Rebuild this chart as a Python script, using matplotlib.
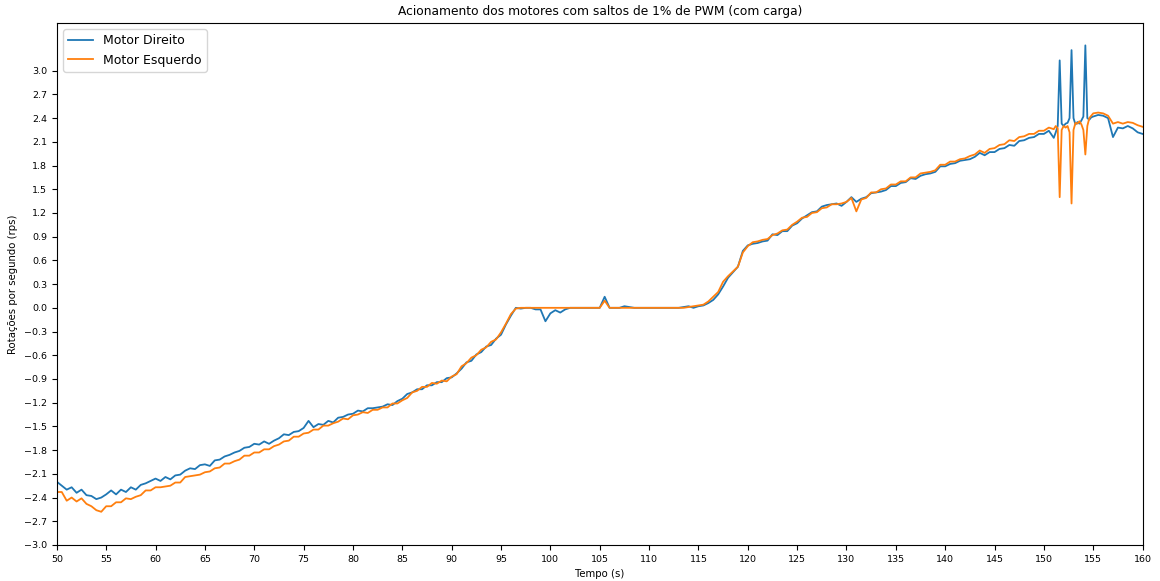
import numpy as np
import matplotlib
matplotlib.use("Agg")
import matplotlib.pyplot as plt

# time grid (s): 0.5 s steps, finer around the spikes at 151-155 s
tempo = np.concatenate([
    np.linspace(50, 150.5, 202),
    np.linspace(151, 154.8, 20),
    np.linspace(155, 160, 11),
])

motor_direito = [
    -2.20, -2.25, -2.30, -2.27, -2.34, -2.30, -2.37, -2.38, -2.42, -2.40,
    -2.36, -2.31, -2.36, -2.30, -2.33, -2.27, -2.30, -2.24, -2.22, -2.19,
    -2.16, -2.19, -2.14, -2.17, -2.12, -2.11, -2.06, -2.03, -2.04, -1.99,
    -1.98, -2.00, -1.93, -1.92, -1.88, -1.86, -1.83, -1.81, -1.77, -1.76,
    -1.72, -1.73, -1.69, -1.72, -1.68, -1.65, -1.60, -1.61, -1.57, -1.56,
    -1.52, -1.43, -1.51, -1.47, -1.48, -1.43, -1.45, -1.39, -1.38, -1.35,
    -1.34, -1.30, -1.31, -1.27, -1.27, -1.26, -1.25, -1.22, -1.23, -1.18,
    -1.15, -1.09, -1.07, -1.03, -1.03, -0.98, -0.98, -0.94, -0.94, -0.89,
    -0.88, -0.83, -0.77, -0.69, -0.67, -0.59, -0.56, -0.49, -0.47, -0.39,
    -0.34, -0.21, -0.10, 0.00, -0.01, 0.00, 0.00, -0.02, -0.02, -0.17,
    -0.07, -0.03, -0.06, -0.02, 0.00, 0.00, 0.00, 0.00, 0.00, 0.00,
    0.00, 0.14, 0.00, 0.00, 0.00, 0.02, 0.01, 0.00, 0.00, 0.00,
    0.00, 0.00, 0.00, 0.00, 0.00, 0.00, 0.00, 0.01, 0.02, 0.00,
    0.02, 0.03, 0.06, 0.10, 0.17, 0.27, 0.38, 0.45, 0.52, 0.72,
    0.79, 0.81, 0.82, 0.84, 0.85, 0.93, 0.92, 0.97, 0.97, 1.04,
    1.07, 1.13, 1.17, 1.21, 1.22, 1.28, 1.30, 1.31, 1.32, 1.29,
    1.34, 1.40, 1.34, 1.38, 1.40, 1.45, 1.46, 1.47, 1.49, 1.54,
    1.54, 1.58, 1.59, 1.64, 1.63, 1.67, 1.69, 1.70, 1.72, 1.79,
    1.79, 1.82, 1.83, 1.86, 1.87, 1.88, 1.91, 1.96, 1.93, 1.97,
    1.97, 2.01, 2.02, 2.06, 2.05, 2.11, 2.12, 2.15, 2.16, 2.20,
    2.20, 2.24,
    2.15, 2.22, 2.30, 3.13, 2.33, 2.30, 2.33, 2.34, 2.40, 3.26,
    2.40, 2.32, 2.35, 2.33, 2.37, 2.42, 3.32, 2.40, 2.38, 2.41,
    2.42, 2.44, 2.43, 2.40, 2.16, 2.28, 2.27, 2.30, 2.27, 2.22, 2.20,
]

motor_esquerdo = [
    -2.33, -2.33, -2.44, -2.40, -2.45, -2.41, -2.48, -2.51, -2.56, -2.58,
    -2.51, -2.51, -2.46, -2.46, -2.41, -2.42, -2.39, -2.37, -2.31, -2.31,
    -2.27, -2.27, -2.26, -2.25, -2.21, -2.21, -2.14, -2.13, -2.12, -2.11,
    -2.08, -2.07, -2.03, -2.02, -1.97, -1.97, -1.94, -1.92, -1.87, -1.87,
    -1.83, -1.83, -1.79, -1.79, -1.75, -1.73, -1.69, -1.68, -1.63, -1.63,
    -1.59, -1.58, -1.54, -1.54, -1.49, -1.49, -1.46, -1.44, -1.40, -1.41,
    -1.36, -1.35, -1.32, -1.33, -1.29, -1.29, -1.26, -1.26, -1.21, -1.21,
    -1.17, -1.14, -1.07, -1.05, -1.00, -1.00, -0.95, -0.96, -0.92, -0.93,
    -0.87, -0.84, -0.74, -0.70, -0.63, -0.60, -0.53, -0.50, -0.43, -0.40,
    -0.31, -0.20, -0.08, -0.01, 0.00, 0.00, 0.00, 0.00, 0.00, 0.00,
    0.00, 0.00, 0.00, 0.00, 0.00, 0.00, 0.00, 0.00, 0.00, 0.00,
    0.00, 0.09, 0.00, 0.00, 0.00, 0.00, 0.00, 0.00, 0.00, 0.00,
    0.00, 0.00, 0.00, 0.00, 0.00, 0.00, 0.00, 0.00, 0.01, 0.02,
    0.03, 0.04, 0.08, 0.14, 0.20, 0.33, 0.40, 0.46, 0.52, 0.70,
    0.78, 0.83, 0.84, 0.86, 0.87, 0.92, 0.94, 0.98, 0.99, 1.05,
    1.09, 1.14, 1.15, 1.20, 1.21, 1.26, 1.27, 1.31, 1.31, 1.32,
    1.34, 1.39, 1.22, 1.37, 1.39, 1.46, 1.46, 1.50, 1.51, 1.56,
    1.56, 1.60, 1.60, 1.65, 1.65, 1.70, 1.71, 1.72, 1.74, 1.81,
    1.81, 1.85, 1.85, 1.88, 1.89, 1.92, 1.94, 1.99, 1.96, 2.01,
    2.02, 2.06, 2.07, 2.12, 2.11, 2.16, 2.17, 2.20, 2.20, 2.24,
    2.24, 2.28,
    2.26, 2.30, 2.27, 1.40, 2.25, 2.30, 2.28, 2.30, 2.22, 1.32,
    2.25, 2.34, 2.33, 2.36, 2.32, 2.25, 1.94, 2.30, 2.40, 2.43,
    2.46, 2.47, 2.46, 2.43, 2.33, 2.35, 2.33, 2.35, 2.34, 2.31, 2.29,
]

fig, ax = plt.subplots(figsize=(11.6, 5.81), dpi=100)
fig.subplots_adjust(left=0.049, right=0.985, bottom=0.062, top=0.96)

ax.plot(tempo, motor_direito, color="#1f77b4", lw=1.3, label="Motor Direito")
ax.plot(tempo, motor_esquerdo, color="#ff7f0e", lw=1.3, label="Motor Esquerdo")

ax.set_xlim(50, 160)
ax.set_ylim(-3.0, 3.6)
ax.set_xticks(np.arange(50, 161, 5))
ax.set_yticks(np.round(np.arange(-3.0, 3.01, 0.3), 1))
ax.tick_params(labelsize=6.8)
ax.set_title("Acionamento dos motores com saltos de 1% de PWM (com carga)", fontsize=8.8)
ax.set_xlabel("Tempo (s)", fontsize=7.3)
ax.set_ylabel("Rotações por segundo (rps)", fontsize=7.3)
ax.legend(loc="upper left", fontsize=9)

fig.savefig("out.png", dpi=100)
